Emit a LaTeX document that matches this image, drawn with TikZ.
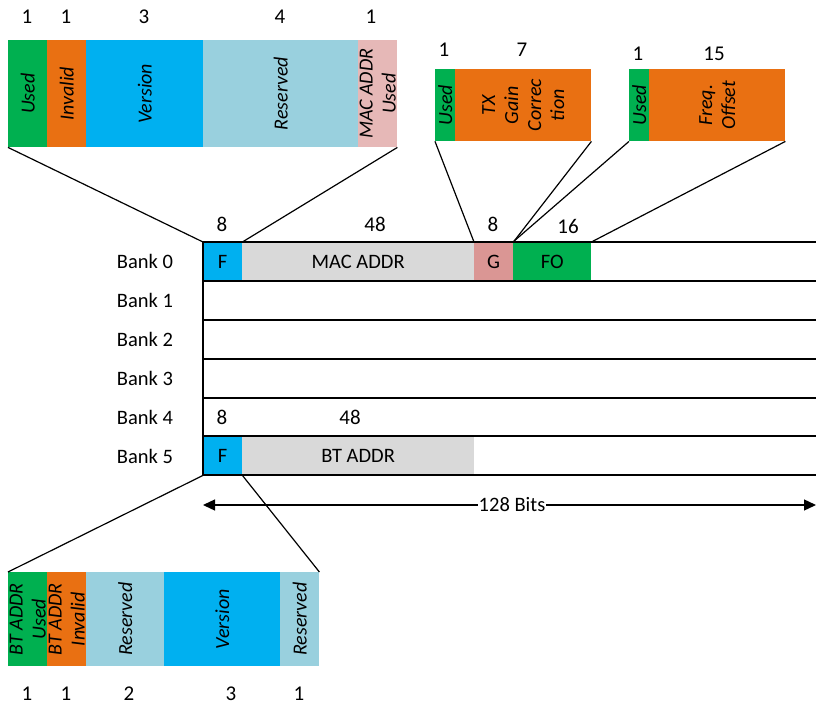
\documentclass[tikz,border=0pt]{standalone}
\usepackage{fontspec}
\setmainfont{Carlito}
\usetikzlibrary{arrows.meta}
\definecolor{cgreen}{HTML}{00B050}
\definecolor{corange}{HTML}{E97012}
\definecolor{cblue}{HTML}{00B0F0}
\definecolor{clblue}{HTML}{99D0DE}
\definecolor{cpink}{HTML}{E6B8B7}
\definecolor{cgray}{HTML}{D9D9D9}
\definecolor{cgpink}{HTML}{DA9694}
\tikzset{
  cell/.style={draw=none, inner sep=0pt, anchor=north west, font=\fontsize{20}{23}\selectfont\itshape, align=center},
  rot/.style={rotate=90},
  num/.style={inner sep=0pt, font=\fontsize{21}{22}\selectfont},
  lbl/.style={inner sep=0pt, font=\fontsize{20.5}{22}\selectfont},
  rowline/.style={line width=1.4pt, black},
  conn/.style={line width=1.2pt, black},
}
\newcommand{\cellbox}[6]{% name, x, y, w, h, color
  \node[cell, fill=#6, minimum width=#4pt, minimum height=#5pt] (#1) at (#2,#3) {};}
\begin{document}
\begin{tikzpicture}[x=1pt,y=-1pt]
\useasboundingbox (0,0) rectangle (816,706);
% ---------- top-left block ----------
\cellbox{tU}{8}{40}{39}{107}{cgreen}
\cellbox{tI}{47}{40}{39}{107}{corange}
\cellbox{tV}{86}{40}{117}{107}{cblue}
\cellbox{tR}{203}{40}{155}{107}{clblue}
\cellbox{tM}{358}{40}{39}{107}{cpink}
\node[cell,anchor=center,rot] (tUt) at (tU.center) {Used};
\node[cell,anchor=center,rot] (tIt) at (tI.center) {Invalid};
\node[cell,anchor=center,rot] (tVt) at (tV.center) {Version};
\node[cell,anchor=center,rot] (tRt) at (tR.center) {Reserved};
\node[cell,anchor=center,rot] (tMt) at (tM.center) {MAC ADDR\\Used};
\node[num] (n1) at (27,17) {1};
\node[num] (n2) at (66,17) {1};
\node[num] (n3) at (144,17) {3};
\node[num] (n4) at (280,17) {4};
\node[num] (n5) at (371,17) {1};
% ---------- TX gain block ----------
\cellbox{gU}{435}{69}{20}{72}{cgreen}
\cellbox{gT}{455}{69}{136}{72}{corange}
\node[cell,anchor=center,rot] (gUt) at (gU.center) {Used};
\node[cell,anchor=center,rot] (gTt) at (gT.center) {TX\\Gain\\Correc\\tion};
\node[num] (g1) at (444,50) {1};
\node[num] (g7) at (522,50) {7};
% ---------- Freq offset block ----------
\cellbox{fU}{629}{69}{20}{72}{cgreen}
\cellbox{fT}{649}{69}{136}{72}{corange}
\node[cell,anchor=center,rot] (fUt) at (fU.center) {Used};
\node[cell,anchor=center,rot] (fTt) at (fT.center) {Freq.\\Offset};
\node[num] (f1) at (638,54) {1};
\node[num] (f15) at (714,54) {15};
% ---------- banks ----------
\cellbox{bF}{203}{242}{39}{39}{cblue}
\cellbox{bM}{242}{242}{232}{39}{cgray}
\cellbox{bG}{474}{242}{39}{39}{cgpink}
\cellbox{bO}{513}{242}{78}{39}{cgreen}
\node[lbl] (bFt) at (bF.center) {F};
\node[lbl] (bMt) at (bM.center) {MAC ADDR};
\node[lbl] (bGt) at (bG.center) {G};
\node[lbl] (bOt) at (bO.center) {FO};
\cellbox{cF}{203}{436}{39}{39}{cblue}
\cellbox{cB}{242}{436}{232}{39}{cgray}
\node[lbl] (cFt) at (cF.center) {F};
\node[lbl] (cBt) at (cB.center) {BT ADDR};
\foreach \yy in {242,281,320,359,398,436,475} {
  \draw[rowline] (203,\yy) -- (816,\yy);
}
\draw[rowline] (203,242) -- (203,475);
\node[lbl] (B0) at (145,261) {Bank 0};
\node[lbl] (B1) at (145,300) {Bank 1};
\node[lbl] (B2) at (145,339) {Bank 2};
\node[lbl] (B3) at (145,378) {Bank 3};
\node[lbl] (B4) at (145,417) {Bank 4};
\node[lbl] (B5) at (145,456) {Bank 5};
\node[num] (m8) at (222,224) {8};
\node[num] (m48) at (375,224) {48};
\node[num] (m8b) at (493,224) {8};
\node[num] (m16) at (568,226) {16};
\node[num] (k8) at (222,417) {8};
\node[num] (k48) at (350,417) {48};
% ---------- 128 bits arrow ----------
\coordinate (aL) at (203,505);
\coordinate (aR) at (816,505);
\draw[line width=1.3pt, {Triangle[length=12pt,width=11pt]}-{Triangle[length=12pt,width=11pt]}] (aL) -- (aR);
\node[lbl, fill=white, inner xsep=1pt, inner ysep=2pt] (bits) at (512,505) {128 Bits};
% ---------- bottom block ----------
\cellbox{dU}{8}{572}{39}{94}{cgreen}
\cellbox{dI}{47}{572}{39}{94}{corange}
\cellbox{dR}{86}{572}{78}{94}{clblue}
\cellbox{dV}{164}{572}{116}{94}{cblue}
\cellbox{dR2}{280}{572}{39}{94}{clblue}
\node[cell,anchor=center,rot] (dUt) at (dU.center) {BT ADDR\\Used};
\node[cell,anchor=center,rot] (dIt) at (dI.center) {BT ADDR\\Invalid};
\node[cell,anchor=center,rot] (dRt) at (dR.center) {Reserved};
\node[cell,anchor=center,rot] (dVt) at (dV.center) {Version};
\node[cell,anchor=center,rot] (dR2t) at (dR2.center) {Reserved};
\node[num] (e1) at (27,694) {1};
\node[num] (e2) at (66,694) {1};
\node[num] (e3) at (129,694) {2};
\node[num] (e4) at (231,694) {3};
\node[num] (e5) at (299,694) {1};
% ---------- connectors ----------
\draw[conn] (tU.south west) -- (bF.north west);
\draw[conn] (tM.south east) -- (bF.north east);
\draw[conn] (gU.south west) -- (bG.north west);
\draw[conn] (gT.south east) -- (bG.north east);
\draw[conn] (fU.south west) -- (bO.north west);
\draw[conn] (fT.south east) -- (bO.north east);
\draw[conn] (cF.south west) -- (dU.north west);
\draw[conn] (cF.south east) -- (dR2.north east);
\end{tikzpicture}
\end{document}
